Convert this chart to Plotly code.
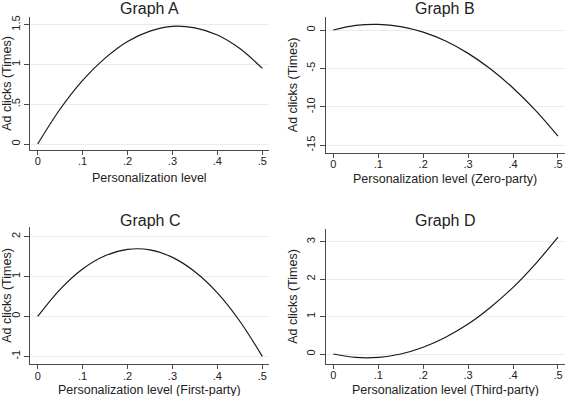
import plotly.graph_objects as go

# Personalization level (x) shared by all four panels
personalization = [0, 0.05, 0.10, 0.15, 0.20, 0.25, 0.30, 0.35, 0.40, 0.45, 0.50]

# Ad clicks (Times)
clicks_a = [0, 0.44, 0.80, 1.08, 1.29, 1.42, 1.48, 1.46, 1.37, 1.20, 0.95]
clicks_b = [0, 0.59, 0.73, 0.45, -0.28, -1.44, -3.04, -5.07, -7.54, -10.45, -13.8]
clicks_c = [0, 0.68, 1.19, 1.52, 1.68, 1.67, 1.48, 1.12, 0.59, -0.12, -1.0]
clicks_d = [0, -0.09, -0.09, 0.0, 0.18, 0.45, 0.80, 1.25, 1.78, 2.41, 3.12]

titles = ["Graph A", "Graph B", "Graph C", "Graph D"]
x_titles = ["Personalization level",
            "Personalization level (Zero-party)",
            "Personalization level (First-party)",
            "Personalization level (Third-party)"]
y_title = "Ad clicks (Times)"

x_tickvals = [0, 0.1, 0.2, 0.3, 0.4, 0.5]
x_ticktext = ["0", ".1", ".2", ".3", ".4", ".5"]

y_tickvals_a = [0, 0.5, 1, 1.5]
y_ticktext_a = ["0", ".5", "1", "1.5"]
y_tickvals_b = [0, -5, -10, -15]
y_ticktext_b = ["0", "-5", "-10", "-15"]
y_tickvals_c = [-1, 0, 1, 2]
y_ticktext_c = ["-1", "0", "1", "2"]
y_tickvals_d = [0, 1, 2, 3]
y_ticktext_d = ["0", "1", "2", "3"]

series = [clicks_a, clicks_b, clicks_c, clicks_d]
yticks = [(y_tickvals_a, y_ticktext_a), (y_tickvals_b, y_ticktext_b),
          (y_tickvals_c, y_ticktext_c), (y_tickvals_d, y_ticktext_d)]

W, H = 565, 396
# layout geometry (pixels from top-left)
x_px = [(30.3, 269.3), (325.7, 565), (30.3, 269.3), (325.7, 565)]
y_px = [(17.3, 149.7), (16.7, 153.0), (226.7, 364.3), (229.0, 364.0)]
title_px = [8.0, 8.0, 220.0, 220.0]
xtitle_px = [178.0, 179.0, 389.5, 389.5]
x_ranges = [[-0.0165, 0.5156], [-0.0169, 0.5156], [-0.0165, 0.5156], [-0.0169, 0.5156]]
y_ranges = [[-0.0717, 1.593], [-16.0, 1.73], [-1.2, 2.25], [-0.267, 3.34]]

FONT = "Liberation Sans, Arial, sans-serif"
AXIS_COLOR = "#4a4a4a"
GRID_COLOR = "#ebebeb"
TEXT_COLOR = "#222222"

fig = go.Figure()
layout = dict(
    width=W, height=H,
    margin=dict(l=0, r=0, t=0, b=0),
    paper_bgcolor="white", plot_bgcolor="white",
    showlegend=False,
    font=dict(family=FONT, color=TEXT_COLOR),
    annotations=[],
)

for i in range(4):
    n = "" if i == 0 else str(i + 1)
    xd = [x_px[i][0] / W, x_px[i][1] / W]
    yd = [1 - y_px[i][1] / H, 1 - y_px[i][0] / H]
    fig.add_trace(go.Scatter(
        x=personalization, y=series[i], mode="lines",
        line=dict(color="#1a1a1a", width=1.2, shape="spline"),
        xaxis="x" + n, yaxis="y" + n, hoverinfo="x+y",
    ))
    layout["xaxis" + n] = dict(
        domain=xd, range=x_ranges[i], anchor="y" + n,
        tickvals=x_tickvals, ticktext=x_ticktext,
        ticks="outside", ticklen=4, tickcolor=AXIS_COLOR,
        ticklabelstandoff=-3,
        showline=True, linecolor=AXIS_COLOR, linewidth=1,
        showgrid=False, zeroline=False,
        tickfont=dict(size=11, family=FONT, color=TEXT_COLOR),
        automargin=False,
    )
    layout["yaxis" + n] = dict(
        domain=yd, range=y_ranges[i], anchor="x" + n,
        tickvals=yticks[i][0], ticktext=yticks[i][1],
        ticks="outside", ticklen=5, tickcolor=AXIS_COLOR, tickangle=-90,
        showline=True, linecolor=AXIS_COLOR, linewidth=1,
        showgrid=True, gridcolor=GRID_COLOR, gridwidth=1, zeroline=False,
        tickfont=dict(size=11, family=FONT, color=TEXT_COLOR),
        title=dict(text=y_title, font=dict(size=12.5, family=FONT, color=TEXT_COLOR), standoff=4),
        automargin=False,
    )
    # panel title
    layout["annotations"].append(dict(
        text=titles[i], xref="paper", yref="paper",
        x=(xd[0] + xd[1]) / 2, y=1 - title_px[i] / H,
        xanchor="center", yanchor="middle", showarrow=False,
        font=dict(size=16, family=FONT, color=TEXT_COLOR),
    ))
    # x-axis title, centred under the data area
    layout["annotations"].append(dict(
        text=x_titles[i], xref="x" + n + " domain", yref="paper",
        x=0.5, y=1 - xtitle_px[i] / H,
        xanchor="center", yanchor="middle", showarrow=False,
        font=dict(size=12.5, family=FONT, color=TEXT_COLOR),
    ))

fig.update_layout(**layout)
fig.write_html(
    "out.html",
    config={"displayModeBar": False},
    post_script="document.body.style.margin='0';document.body.style.overflow='hidden';",
)
